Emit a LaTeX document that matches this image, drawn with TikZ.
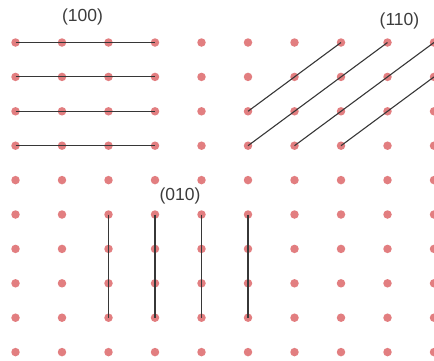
\documentclass[tikz,border=0pt]{standalone}
\usepackage{fontspec}
\setmainfont{Liberation Sans}
\definecolor{dotc}{RGB}{226,126,128}
\definecolor{linec}{RGB}{55,55,55}
\definecolor{textc}{RGB}{60,60,60}
\begin{document}
\begin{tikzpicture}[x=1pt,y=-1pt,
  latt/.style={circle,fill=dotc,inner sep=0pt,minimum size=8.5pt},
  plane/.style={draw=linec,line width=1.1pt},
  lbl/.style={font=\fontsize{17.5}{20}\selectfont,text=textc,inner sep=0pt}]
\useasboundingbox (0,0) rectangle (434,360);
\clip (0,0) rectangle (434,360);
\foreach \i in {0,...,9}{\foreach \j in {0,...,9}{
  \node[latt] (d-\i-\j) at ({15.5+46.5*\i},{42.5+34.4*\j}) {};}}
% (100) planes
\foreach \j in {0,...,3}{\draw[plane] (d-0-\j.center) -- (d-3-\j.center);}
% (110) planes
\draw[plane] (d-5-2.center) -- (d-7-0.center);
\draw[plane] (d-5-3.center) -- (d-8-0.center);
\draw[plane] (d-6-3.center) -- (d-9-0.center);
\draw[plane] (d-7-3.center) -- (d-9-1.center);
% (010) planes
\foreach \i in {2,...,5}{\draw[plane] (d-\i-5.center) -- (d-\i-8.center);}
% labels
\node[lbl] (l100) at (82.5,17) {(100)};
\node[lbl] (l110) at (399.5,21) {(110)};
\node[lbl] (l010) at (180,196) {(010)};
\end{tikzpicture}
\end{document}
